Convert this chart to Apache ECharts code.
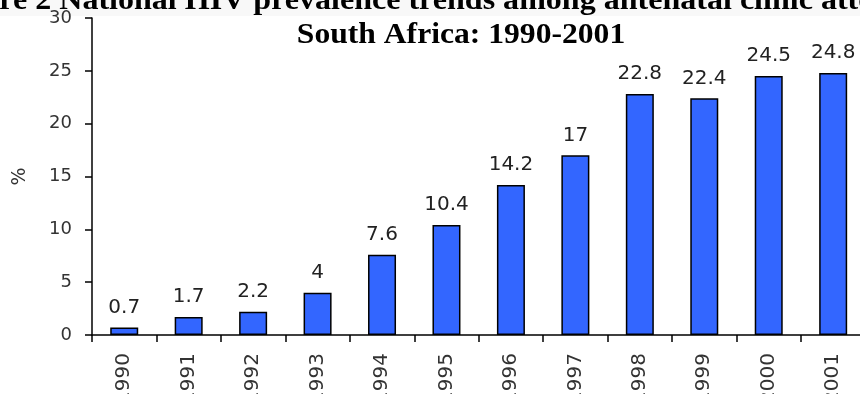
<!DOCTYPE html>
<html>
<head>
<meta charset="utf-8">
<script src="https://cdn.jsdelivr.net/npm/echarts@6/dist/echarts.min.js"></script>
<style>
html,body{margin:0;padding:0;background:#fff;}
#chart{width:860px;height:394px;}
</style>
</head>
<body>
<div id="chart"></div>
<script>
var years = ['1990','1991','1992','1993','1994','1995','1996','1997','1998','1999','2000','2001'];
var prevalence = [0.7, 1.7, 2.2, 4, 7.6, 10.4, 14.2, 17, 22.8, 22.4, 24.5, 24.8];
var titleLine1 = 'Figure 2 National HIV prevalence trends among antenatal clinic attendees in';
var titleLine2 = 'South Africa: 1990-2001';
var yAxisName = '%';

var chart = echarts.init(document.getElementById('chart'), null, {renderer: 'canvas'});
var axisFont = 'DejaVu Sans';
chart.setOption({
  animation: false,
  backgroundColor: '#fff',
  grid: {left: 92, top: 18, width: 773.4, bottom: 59, containLabel: false, outerBoundsMode: 'none'},
  xAxis: {
    type: 'category',
    data: years,
    boundaryGap: true,
    axisLine: {show: true, lineStyle: {color: '#000', width: 1.5}},
    axisTick: {show: true, length: 7, alignWithLabel: false, lineStyle: {color: '#000', width: 1.5}},
    axisLabel: {rotate: 90, fontSize: 20, color: '#333', margin: 18, fontFamily: axisFont, interval: 0}
  },
  yAxis: {
    type: 'value',
    min: 0, max: 30, interval: 5,
    name: yAxisName,
    nameLocation: 'middle',
    nameGap: 62,
    nameRotate: 90,
    nameTextStyle: {fontSize: 19, color: '#333', fontFamily: axisFont},
    splitLine: {show: false},
    axisLine: {show: true, lineStyle: {color: '#000', width: 1.5}},
    axisTick: {show: true, length: 7, lineStyle: {color: '#000', width: 1.5}},
    axisLabel: {fontSize: 18, color: '#333', margin: 20, fontFamily: axisFont}
  },
  series: [{
    type: 'bar',
    data: prevalence,
    barWidth: 28,
    itemStyle: {color: '#3366ff', borderColor: '#000', borderWidth: 1.5},
    label: {show: true, position: 'top', distance: 10, fontSize: 20, color: '#222', fontFamily: axisFont}
  }],
  graphic: [
    {type: 'rect', left: 0, top: 0, shape: {width: 860, height: 16}, style: {fill: '#f8f8f8'}, z: -10},
    {type: 'text', x: -63, y: -13, scaleX: 1.105, style: {text: titleLine1, font: 'bold 29px "Liberation Serif", "Times New Roman", serif', fill: '#000', verticalAlign: 'top', align: 'left'}},
    {type: 'text', x: 461, y: 21, scaleX: 1.09, style: {text: titleLine2, font: 'bold 29px "Liberation Serif", "Times New Roman", serif', fill: '#000', verticalAlign: 'top', align: 'center'}}
  ]
});
</script>
</body>
</html>
